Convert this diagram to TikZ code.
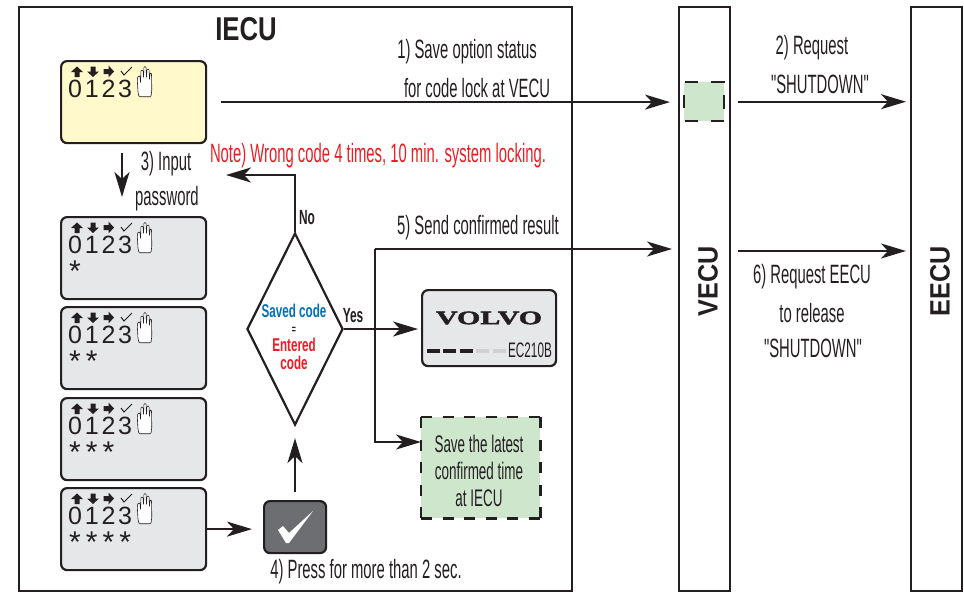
\documentclass[tikz,border=0pt]{standalone}
\usepackage{fontspec}
\usetikzlibrary{arrows.meta,shapes.geometric}
\setmainfont{Liberation Sans}
\newfontfamily\cond[FakeStretch=0.56]{Liberation Sans}
\newfontfamily\condb[FakeStretch=0.58]{Liberation Sans Bold}
\newfontfamily\decf[FakeStretch=0.63]{Liberation Sans Bold}
\newfontfamily\iecuf[FakeStretch=0.78]{Liberation Sans Bold}
\newfontfamily\ecuf[FakeStretch=0.9]{Liberation Sans Bold}
\newfontfamily\volvof[FakeStretch=1.58,FakeBold=2.5]{Liberation Serif Bold}
\newfontfamily\digitf[LetterSpace=11]{Liberation Sans}
\newfontfamily\starf[LetterSpace=17]{Liberation Sans}
\definecolor{ink}{HTML}{231F20}
\definecolor{panelgray}{HTML}{E6E7E8}
\definecolor{panelyellow}{HTML}{FFF9CC}
\definecolor{panelgreen}{HTML}{CDE6CC}
\definecolor{btngray}{HTML}{6D6E71}
\definecolor{noteRed}{HTML}{ED1C24}
\definecolor{codeBlue}{HTML}{0072BC}
\tikzset{
  frameline/.style={draw=ink,line width=2.4pt},
  unitbox/.style={frameline,minimum width=#1,minimum height=584pt,inner sep=0pt},
  panel/.style={draw=ink,line width=2.2pt,rounded corners=6pt,minimum width=145pt,minimum height=82pt,inner sep=0pt,fill=panelgray},
  conn/.style={draw=ink,line width=2.2pt},
  arrowed/.style={conn,-{Stealth[length=25pt,width=15pt,inset=7pt]}},
  lbl/.style={inner sep=0pt,text=ink,font=\cond\fontsize{26.5}{26.5}\selectfont},
  blbl/.style={inner sep=0pt,text=ink,font=\condb\fontsize{20.5}{20.5}\selectfont},
  declbl/.style={inner sep=0pt,font=\decf\fontsize{18.5}{18.5}\selectfont},
  dashside/.style={draw=ink,line width=2.4pt},
}
\newcommand{\panelicons}[2]{%
  \begin{scope}[shift={(#1.north west)}]
    \fill[ink] (17,6.5) -- (23,12) -- (19.5,12) -- (19.5,17) -- (14.5,17) -- (14.5,12) -- (11,12) -- cycle;
    \fill[ink] (33,17) -- (39,11.5) -- (35.5,11.5) -- (35.5,6.5) -- (30.5,6.5) -- (30.5,11.5) -- (27,11.5) -- cycle;
    \fill[ink] (54,11.5) -- (48.5,5.5) -- (48.5,9) -- (43.5,9) -- (43.5,14) -- (48.5,14) -- (48.5,17.5) -- cycle;
    \draw[ink,line width=1pt] (61,11) -- (64,15) -- (72,7);
    \draw[ink,line width=.6pt,fill=white,rounded corners=1pt]
      (79,36.7) -- (78,32) -- (77.3,20) -- (78,16) -- (80,16) -- (80.5,23)
      -- (81,10) -- (83,10) -- (83.5,18) -- (84,6.5) -- (86,6.5) -- (86.5,18)
      -- (87,9) -- (89,9) -- (89.5,20) -- (90,13) -- (91.5,13.5) -- (91.8,30) -- (91,36.7) -- cycle;
    \node[anchor=base west,inner sep=0pt,text=ink,font=\digitf\fontsize{25}{25}\selectfont] (#1digits) at (8,37) {0123};
    \node[anchor=base west,inner sep=0pt,text=ink,font=\starf\fontsize{30}{30}\selectfont] (#1stars) at (9,65) {#2};
  \end{scope}}
\begin{document}
\begin{tikzpicture}[x=1pt,y=-1pt]
\useasboundingbox (0,0) rectangle (964,592);
% frames
\node[unitbox=553pt,anchor=north west] (iecu) at (18,6) {};
\node[unitbox=51pt,anchor=north west] (vecu) at (678,6) {};
\node[unitbox=51pt,anchor=north west] (eecu) at (910,6) {};
\node[font=\iecuf\fontsize{33}{33}\selectfont,text=ink,inner sep=0pt] (iecuT) at (246,29) {IECU};
\node[font=\ecuf\fontsize{28}{28}\selectfont,text=ink,inner sep=0pt,rotate=90] (vecuT) at (708,281) {VECU};
\node[font=\ecuf\fontsize{28}{28}\selectfont,text=ink,inner sep=0pt,rotate=90] (eecuT) at (940,281) {EECU};
% panels
\node[panel,fill=panelyellow,anchor=north west] (p0) at (60,60) {};
\node[panel,anchor=north west] (p1) at (60,216) {};
\node[panel,anchor=north west] (p2) at (60,306) {};
\node[panel,anchor=north west] (p3) at (60,397) {};
\node[panel,anchor=north west] (p4) at (60,487) {};
\panelicons{p0}{}
\panelicons{p1}{*}
\panelicons{p2}{**}
\panelicons{p3}{***}
\panelicons{p4}{****}
% green box in VECU
\node[fill=panelgreen,inner sep=0pt,minimum width=40pt,minimum height=39pt,anchor=north west] (store) at (684,82) {};
\draw[dashside] (685,82) -- (698,82) (711,82) -- (725,82) (685,121) -- (698,121) (711,121) -- (724,121)
  (684,95) -- (684,108) (724,95) -- (724,109);
% decision
\node[diamond,draw=ink,line width=2.2pt,fill=white,minimum width=96pt,minimum height=192pt,inner sep=0pt,aspect=0.5] (dec) at (295,329) {};
\node[declbl,text=codeBlue] (decA) at (294,311) {Saved code};
\node[font=\condb\fontsize{12}{12}\selectfont,text=ink,inner sep=0pt] (decB) at (294,330) {=};
\node[declbl,text=noteRed] (decC) at (294,345) {Entered};
\node[declbl,text=noteRed] (decD) at (294,363) {code};
% Volvo display
\node[panel,minimum width=134pt,minimum height=76pt,anchor=north west] (volvo) at (421,289) {};
\node[font=\volvof\fontsize{19}{19}\selectfont,text=ink,inner sep=0pt] (volvoT) at (489,318) {VOLVO};
\node[font=\cond\fontsize{21}{21}\selectfont,text=ink,inner sep=0pt] (volvoM) at (530,350) {EC210B};
\draw[ink,line width=3.2pt] (427,351) -- (440,351) (443,351) -- (456,351) (460,351) -- (473,351);
\draw[black!18,line width=3.2pt] (476,351) -- (489,351) (493,351) -- (506,351);
% save box
\node[fill=panelgreen,inner sep=0pt,minimum width=119pt,minimum height=101pt,anchor=north west] (save) at (421,417) {};
\draw[dashside,dash pattern=on 11pt off 10.5pt] (save.north west) -- (save.north east) (save.south west) -- (save.south east);
\draw[dashside,dash pattern=on 11pt off 11.5pt] (save.north west) -- (save.south west) (save.north east) -- (save.south east);
\node[lbl,font=\cond\fontsize{24}{24}\selectfont] (saveA) at (479,444) {Save the latest};
\node[lbl,font=\cond\fontsize{24}{24}\selectfont] (saveB) at (479,471) {confirmed time};
\node[lbl,font=\cond\fontsize{24}{24}\selectfont] (saveC) at (479,498) {at IECU};
% button
\node[draw=ink,line width=2.2pt,fill=btngray,rounded corners=6pt,minimum width=62pt,minimum height=52pt,inner sep=0pt,anchor=north west] (btn) at (263,500) {};
\fill[white] (278,530) -- (283,526) -- (289,533) -- (313,511) -- (289,543) -- (286,543) -- cycle;
% labels
\node[lbl] (t1a) at (467,52) {1) Save option status};
\node[lbl] (t1b) at (477,88) {for code lock at VECU};
\node[lbl] (t2a) at (812,48) {2) Request};
\node[lbl] (t2b) at (820,84) {"SHUTDOWN"};
\node[lbl] (t3a) at (166,164) {3) Input};
\node[lbl] (t3b) at (167,199) {password};
\node[lbl,text=noteRed] (note) at (378,156) {Note) Wrong code 4 times, 10 min. system locking.};
\node[blbl] (tno) at (307,218) {No};
\node[blbl] (tyes) at (353,316) {Yes};
\node[lbl] (t5) at (478,228) {5) Send confirmed result};
\node[lbl] (t6a) at (812,277) {6) Request EECU};
\node[lbl] (t6b) at (812,313) {to release};
\node[lbl] (t6c) at (813,348) {"SHUTDOWN"};
\node[lbl] (t4) at (366,572) {4) Press for more than 2 sec.};
% connectors
\coordinate (noTurn) at (dec.north |- 175,175);
\coordinate (noEnd) at (226,175);
\coordinate (branch) at (375,249);
\coordinate (v5) at (678,249);
\coordinate (v6) at (729,251);
\draw[arrowed,shorten <=14pt,shorten >=8pt] (p0.east) -- (p0.east -| vecu.west);
\draw[arrowed,shorten <=14pt,shorten >=4pt] (store.east) -- (store.east -| eecu.west);
\draw[arrowed] (122,153) -- (122,197);
\draw[arrowed] (dec.north) -- (noTurn) -- (noEnd);
\draw[arrowed,shorten >=3pt] (dec.east) -- (dec.east -| volvo.west);
\draw[conn] (branch) -- (branch |- dec.east);
\draw[arrowed,shorten >=6pt] (branch) -- (v5);
\draw[arrowed] (branch |- dec.east) -- (375,442) -- (save.west |- 375,442);
\draw[arrowed,shorten <=9pt,shorten >=4pt] (v6) -- (v6 -| eecu.west);
\draw[arrowed,shorten >=11pt] (p4.east) -- (p4.east -| btn.west);
\draw[arrowed,shorten <=8pt,shorten >=12pt] (btn.north -| dec.south) -- (dec.south);
\end{tikzpicture}
\end{document}
